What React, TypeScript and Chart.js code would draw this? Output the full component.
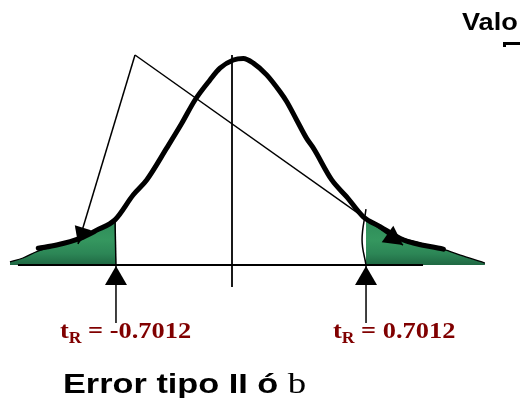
import React, { useEffect, useRef } from 'react';
import { Chart, registerables } from 'chart.js';

Chart.register(...registerables);

// Horizontal axis in t units, vertical axis in density units
const X_MIN = -1.3517;
const X_MAX = 1.5648;
const Y_MIN = -0.2595;
const Y_MAX = 0.5171;

const T_CRITICAL = 0.7012;

// Bell curve (drawn thick)
const curveT = [
  -1.137, -1.034, -0.903, -0.809, -0.707, -0.604, -0.529, -0.417, -0.333, -0.258,
  -0.174, -0.118, -0.043, 0.013, 0.069, 0.144, 0.219, 0.256, 0.312, 0.368,
  0.406, 0.509, 0.593, 0.686, 0.78, 0.91, 1.135,
];
const curveDensity = [
  0.0326, 0.039, 0.052, 0.068, 0.088, 0.137, 0.166, 0.228, 0.276, 0.322,
  0.361, 0.384, 0.4, 0.403, 0.394, 0.371, 0.338, 0.319, 0.283, 0.247,
  0.228, 0.166, 0.133, 0.094, 0.075, 0.049, 0.031,
];

// Rejection tails (shaded)
const leftTailT = [-1.296, -1.223, -1.139, -1.032, -0.903, -0.808, -0.7012];
const leftTailDensity = [0.0059, 0.0137, 0.0273, 0.0371, 0.0507, 0.0663, 0.0878];
const rightTailT = [0.7012, 0.796, 0.892, 1.004, 1.133, 1.245, 1.368];
const rightTailDensity = [0.0917, 0.0722, 0.0546, 0.0429, 0.0312, 0.0176, 0.0039];

// Critical value boundaries
const leftEdgeT = [-0.707, -0.7012];
const leftEdgeDensity = [0.0917, 0];
const rightEdgeT = [0.701, 0.679, 0.701];
const rightEdgeDensity = [0.109, 0.049, 0];

// Axes
const baselineT = [-1.251, 1.021];
const centerLineT = -0.0505;
const centerLineDensity = [-0.043, 0.4098];

// Pointer lines: shared apex, one tip in each tail
const pointerApex = { x: -0.5945, y: 0.4098 };
const pointerTips = [
  { x: -0.914, y: 0.041 },
  { x: 0.9086, y: 0.039 },
];

// Upward arrows under the critical values
const markerDensity = [-0.113, -0.002];

const pairs = (xs: number[], ys: number[]) => xs.map((x, i) => ({ x, y: ys[i] }));

const arrowHeads = {
  id: 'arrowHeads',
  afterDatasetsDraw(chart: any) {
    const ctx = chart.ctx as CanvasRenderingContext2D;
    chart.data.datasets.forEach((ds: any, i: number) => {
      if (!ds.arrowHead) return;
      const pts = chart.getDatasetMeta(i).data;
      if (pts.length < 2) return;
      const a = pts[pts.length - 2];
      const b = pts[pts.length - 1];
      const dx = b.x - a.x;
      const dy = b.y - a.y;
      const len = Math.hypot(dx, dy) || 1;
      const ux = dx / len;
      const uy = dy / len;
      const { length, halfWidth } = ds.arrowHead;
      const bx = b.x - ux * length;
      const by = b.y - uy * length;
      ctx.save();
      ctx.fillStyle = '#000';
      ctx.beginPath();
      ctx.moveTo(b.x, b.y);
      ctx.lineTo(bx - uy * halfWidth, by + ux * halfWidth);
      ctx.lineTo(bx + uy * halfWidth, by - ux * halfWidth);
      ctx.closePath();
      ctx.fill();
      ctx.restore();
    });
  },
};

const tailFill = (context: any) => {
  const chart = context.chart;
  const yScale = chart.scales && chart.scales.y;
  if (!chart.chartArea || !yScale) return '#2e8b57';
  const top = yScale.getPixelForValue(0.11);
  const bottom = yScale.getPixelForValue(0);
  if (!Number.isFinite(top) || !Number.isFinite(bottom) || top === bottom) return '#2e8b57';
  const g = chart.ctx.createLinearGradient(0, top, 0, bottom);
  g.addColorStop(0, '#2b8656');
  g.addColorStop(0.55, '#35975f');
  g.addColorStop(0.8, '#2c8656');
  g.addColorStop(1, '#1f6843');
  return g;
};

const line = (data: { x: number; y: number }[], width: number, extra: any = {}) => ({
  data,
  showLine: true,
  borderColor: '#000',
  borderWidth: width,
  pointRadius: 0,
  fill: false,
  clip: false,
  ...extra,
});

export default function App() {
  const canvasRef = useRef<HTMLCanvasElement | null>(null);

  useEffect(() => {
    if (!canvasRef.current) return;
    const chart = new Chart(canvasRef.current, {
      type: 'scatter',
      data: {
        datasets: [
          // listed first = drawn on top
          line([pointerApex, pointerTips[0]], 1.5, { arrowHead: { length: 17, halfWidth: 8.5 } }),
          line([pointerApex, pointerTips[1]], 1.5, { arrowHead: { length: 19, halfWidth: 10 } }),
          line(pairs([-T_CRITICAL, -T_CRITICAL], markerDensity), 1.5, { arrowHead: { length: 19, halfWidth: 11 } }),
          line(pairs([T_CRITICAL, T_CRITICAL], markerDensity), 1.5, { arrowHead: { length: 19, halfWidth: 11 } }),
          line(pairs(curveT, curveDensity), 5, {
            cubicInterpolationMode: 'monotone',
            borderCapStyle: 'round',
            borderJoinStyle: 'round',
          }),
          line(pairs(leftEdgeT, leftEdgeDensity), 1.5),
          line(pairs(rightEdgeT, rightEdgeDensity), 1.5, { tension: 0.4 }),
          line(pairs([centerLineT, centerLineT], centerLineDensity), 1.8),
          line(pairs(baselineT, [0, 0]), 2),
          line(pairs(leftTailT, leftTailDensity), 1.3, {
            cubicInterpolationMode: 'monotone',
            fill: { value: 0 },
            backgroundColor: tailFill,
          }),
          line(pairs(rightTailT, rightTailDensity), 1.3, {
            cubicInterpolationMode: 'monotone',
            fill: { value: 0 },
            backgroundColor: tailFill,
          }),
        ] as any,
      },
      options: {
        animation: false,
        responsive: false,
        devicePixelRatio: 1,
        layout: { padding: 0 },
        events: [],
        plugins: { legend: { display: false }, tooltip: { enabled: false } },
        scales: {
          x: { type: 'linear', min: X_MIN, max: X_MAX, display: false },
          y: { type: 'linear', min: Y_MIN, max: Y_MAX, display: false },
        },
      },
      plugins: [arrowHeads],
    });
    return () => chart.destroy();
  }, []);

  const labelStyle: React.CSSProperties = {
    position: 'absolute',
    whiteSpace: 'nowrap',
    fontFamily: '"Liberation Serif", "Times New Roman", serif',
    fontWeight: 'bold',
    fontSize: 24,
    lineHeight: '24px',
    color: '#800000',
    transform: 'scaleX(1.1)',
    transformOrigin: '0 0',
  };
  const subStyle: React.CSSProperties = {
    fontSize: 16,
    position: 'relative',
    top: 5,
  };

  return (
    <div
      style={{
        position: 'fixed',
        left: 0,
        top: 0,
        width: 520,
        height: 398,
        overflow: 'hidden',
        background: '#fff',
      }}
    >
      <canvas ref={canvasRef} width={520} height={398} style={{ position: 'absolute', left: 0, top: 0 }} />
      <div
        style={{
          position: 'absolute',
          left: 462,
          top: 9.7,
          whiteSpace: 'nowrap',
          fontFamily: '"Liberation Sans", Arial, sans-serif',
          fontWeight: 'bold',
          fontSize: 24,
          lineHeight: '24px',
          transform: 'scaleX(1.13)',
          transformOrigin: '0 0',
        }}
      >
        Valo
      </div>
      <div style={{ position: 'absolute', left: 503, top: 42, width: 17, height: 5, borderTop: '3px solid #000', borderLeft: '3px solid #000', boxSizing: 'border-box' }} />
      <div style={{ ...labelStyle, left: 59.5, top: 317.9 }}>
        t<span style={subStyle}>R</span> = {(-T_CRITICAL).toFixed(4)}
      </div>
      <div style={{ ...labelStyle, left: 332.5, top: 317.9 }}>
        t<span style={subStyle}>R</span> = {T_CRITICAL.toFixed(4)}
      </div>
      <div
        style={{
          position: 'absolute',
          left: 63,
          top: 369.8,
          whiteSpace: 'nowrap',
          fontFamily: '"Liberation Sans", Arial, sans-serif',
          fontWeight: 'bold',
          fontSize: 27,
          lineHeight: '27px',
          transform: 'scaleX(1.27)',
          transformOrigin: '0 0',
        }}
      >
        Error tipo II ó{' '}
        <span style={{ fontFamily: '"Liberation Serif", "Times New Roman", serif', fontWeight: 'normal', fontSize: 29 }}>b</span>
      </div>
    </div>
  );
}
